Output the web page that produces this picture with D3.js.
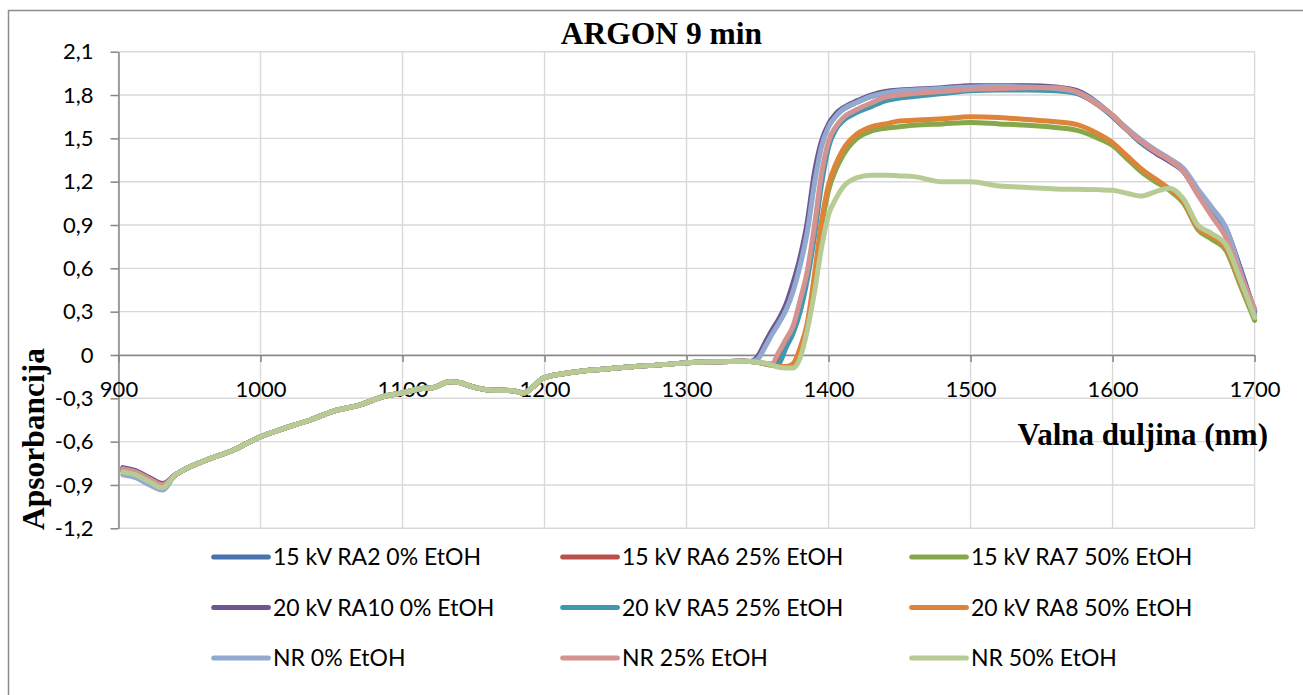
<!DOCTYPE html>
<html>
<head>
<meta charset="utf-8">
<script src="https://cdn.jsdelivr.net/npm/d3@7"></script>
<style>
body { margin: 0; background: #fff; }
</style>
</head>
<body>
<svg id="chart"></svg>
<script>
var width = 1303;
var height = 695;

// series, in legend (and drawing) order
var seriesNames = [
    "15 kV RA2 0% EtOH", "15 kV RA6 25% EtOH", "15 kV RA7 50% EtOH",
    "20 kV RA10 0% EtOH", "20 kV RA5 25% EtOH", "20 kV RA8 50% EtOH",
    "NR 0% EtOH", "NR 25% EtOH", "NR 50% EtOH"
];
var seriesColors = [
    "#4a74ad", "#b9504c", "#87a84a",
    "#6e5790", "#3f98ae", "#dd8439",
    "#92a9d0", "#d49291", "#b7cc95"
];

var xTicks = [900, 1000, 1100, 1200, 1300, 1400, 1500, 1600, 1700];
var yTicks = [-1.2, -0.9, -0.6, -0.3, 0, 0.3, 0.6, 0.9, 1.2, 1.5, 1.8, 2.1];

// start of the spectra (small differences between series)
var headNm = [903, 912, 922, 931];
var ra2Head = [-0.79, -0.81, -0.86, -0.91];
var ra6Head = [-0.80, -0.81, -0.86, -0.90];
var ra7Head = [-0.80, -0.82, -0.87, -0.91];
var ra10Head = [-0.78, -0.80, -0.85, -0.89];
var ra5Head = [-0.80, -0.82, -0.87, -0.91];
var ra8Head = [-0.80, -0.82, -0.86, -0.90];
var nr0Head = [-0.83, -0.85, -0.90, -0.935];
var nr25Head = [-0.79, -0.81, -0.86, -0.90];
var nr50Head = [-0.81, -0.83, -0.88, -0.92];

// middle part, the same for every series
var midNm = [940, 948, 962, 981, 1000, 1016, 1035, 1051, 1070, 1086, 1100, 1112, 1122, 1133,
    1140, 1146, 1161, 1178, 1185, 1192, 1199, 1215, 1239, 1262, 1286, 1300, 1321, 1340];
var midVal = [-0.83, -0.785, -0.727, -0.658, -0.566, -0.51, -0.45, -0.39, -0.346, -0.289,
    -0.262, -0.235, -0.225, -0.186, -0.19, -0.21, -0.242, -0.247, -0.265, -0.22, -0.16,
    -0.127, -0.10, -0.081, -0.065, -0.053, -0.046, -0.044];

// absorption band
var tailNm = [1345, 1350, 1355, 1360, 1365, 1370, 1375, 1380, 1385, 1390, 1395, 1400, 1405,
    1410, 1420, 1430, 1440, 1450, 1460, 1480, 1500, 1520, 1540, 1560, 1575, 1590, 1600, 1610,
    1620, 1630, 1640, 1650, 1660, 1670, 1680, 1690, 1700];
var ra2Tail = [-0.045, -0.02, 0.06, 0.15, 0.23, 0.32, 0.46, 0.64, 0.88, 1.22, 1.46, 1.59, 1.66,
    1.70, 1.75, 1.79, 1.815, 1.83, 1.835, 1.845, 1.86, 1.86, 1.86, 1.85, 1.825, 1.74, 1.655, 1.565,
    1.48, 1.41, 1.35, 1.28, 1.14, 1.01, 0.87, 0.59, 0.30];
var ra6Tail = [-0.045, -0.05, -0.06, -0.065, -0.01, 0.08, 0.18, 0.34, 0.55, 0.86, 1.22, 1.46, 1.57,
    1.63, 1.69, 1.735, 1.775, 1.79, 1.80, 1.82, 1.835, 1.84, 1.845, 1.845, 1.815, 1.73, 1.655, 1.56,
    1.475, 1.41, 1.35, 1.27, 1.115, 0.965, 0.82, 0.565, 0.31];
var ra7Tail = [-0.045, -0.05, -0.06, -0.07, -0.08, -0.085, -0.065, 0.03, 0.20, 0.50, 0.88, 1.14, 1.28,
    1.38, 1.50, 1.55, 1.57, 1.58, 1.59, 1.60, 1.61, 1.60, 1.59, 1.575, 1.555, 1.50, 1.45, 1.36,
    1.27, 1.20, 1.14, 1.05, 0.87, 0.80, 0.72, 0.48, 0.24];
var ra10Tail = [-0.045, -0.01, 0.08, 0.17, 0.25, 0.35, 0.50, 0.68, 0.92, 1.26, 1.48, 1.60, 1.67,
    1.71, 1.76, 1.80, 1.825, 1.835, 1.84, 1.85, 1.865, 1.865, 1.865, 1.855, 1.83, 1.74, 1.65, 1.56,
    1.47, 1.40, 1.34, 1.27, 1.13, 1.01, 0.87, 0.60, 0.30];
var ra5Tail = [-0.045, -0.05, -0.06, -0.07, -0.06, 0.05, 0.15, 0.30, 0.52, 0.82, 1.18, 1.44, 1.56,
    1.62, 1.68, 1.72, 1.76, 1.78, 1.79, 1.81, 1.83, 1.835, 1.835, 1.83, 1.81, 1.73, 1.65, 1.56,
    1.47, 1.41, 1.35, 1.27, 1.12, 0.97, 0.83, 0.57, 0.31];
var ra8Tail = [-0.045, -0.05, -0.06, -0.07, -0.08, -0.08, -0.06, 0.05, 0.22, 0.55, 0.92, 1.18, 1.32,
    1.42, 1.53, 1.58, 1.60, 1.62, 1.625, 1.635, 1.65, 1.645, 1.63, 1.615, 1.595, 1.53, 1.47, 1.38,
    1.29, 1.22, 1.15, 1.06, 0.88, 0.82, 0.74, 0.50, 0.27];
var nr0Tail = [-0.045, -0.03, 0.05, 0.14, 0.22, 0.31, 0.44, 0.62, 0.85, 1.18, 1.44, 1.58, 1.65,
    1.70, 1.75, 1.79, 1.815, 1.83, 1.835, 1.845, 1.855, 1.86, 1.855, 1.845, 1.82, 1.74, 1.66, 1.57,
    1.49, 1.42, 1.36, 1.29, 1.15, 1.02, 0.88, 0.58, 0.28];
var nr25Tail = [-0.045, -0.05, -0.06, -0.06, 0.02, 0.11, 0.20, 0.38, 0.58, 0.89, 1.25, 1.48, 1.58,
    1.64, 1.70, 1.745, 1.785, 1.80, 1.81, 1.825, 1.84, 1.845, 1.85, 1.85, 1.82, 1.73, 1.66, 1.56,
    1.48, 1.41, 1.35, 1.27, 1.11, 0.96, 0.81, 0.56, 0.32];
var nr50Tail = [-0.045, -0.05, -0.055, -0.07, -0.085, -0.09, -0.09, -0.02, 0.17, 0.43, 0.74, 0.97, 1.08,
    1.16, 1.228, 1.245, 1.245, 1.24, 1.235, 1.20, 1.20, 1.17, 1.16, 1.15, 1.147, 1.145, 1.14, 1.12,
    1.10, 1.13, 1.155, 1.08, 0.90, 0.84, 0.76, 0.52, 0.26];

var heads = [ra2Head, ra6Head, ra7Head, ra10Head, ra5Head, ra8Head, nr0Head, nr25Head, nr50Head];
var tails = [ra2Tail, ra6Tail, ra7Tail, ra10Tail, ra5Tail, ra8Tail, nr0Tail, nr25Tail, nr50Tail];

function buildPoints(head, tail) {
    var pts = [];
    for (var i = 0; i < headNm.length; i++) pts.push([headNm[i], head[i]]);
    for (var i = 0; i < midNm.length; i++) pts.push([midNm[i], midVal[i]]);
    for (var i = 0; i < tailNm.length; i++) pts.push([tailNm[i], tail[i]]);
    return pts;
}

var svg = d3.select("#chart")
    .attr("width", width)
    .attr("height", height);

// outer chart border
svg.append("rect")
    .attr("x", 8.5)
    .attr("y", 10.5)
    .attr("width", 1400)
    .attr("height", 800)
    .attr("fill", "#fff")
    .attr("stroke", "#8c8c8c")
    .attr("stroke-width", 1.5);

var x = d3.scaleLinear().domain([900, 1700]).range([118.5, 1254.6]);
var y = d3.scaleLinear().domain([-1.2, 2.1]).range([528.3, 51.7]);

// gridlines
svg.append("g")
    .selectAll("line")
    .data(yTicks)
    .enter()
    .append("line")
    .attr("x1", x(900))
    .attr("x2", x(1700))
    .attr("y1", function (d) { return y(d); })
    .attr("y2", function (d) { return y(d); })
    .attr("stroke", "#d9d9d9")
    .attr("stroke-width", 1.4);

svg.append("g")
    .selectAll("line")
    .data(xTicks)
    .enter()
    .append("line")
    .attr("x1", function (d) { return x(d); })
    .attr("x2", function (d) { return x(d); })
    .attr("y1", y(2.1))
    .attr("y2", y(-1.2))
    .attr("stroke", "#d9d9d9")
    .attr("stroke-width", 1.4);

function fmt(d) {
    if (d === 0) return "0";
    return d.toFixed(1).replace(".", ",");
}

// y axis
var yAxis = svg.append("g")
    .attr("transform", "translate(" + x(900) + ",0)")
    .call(d3.axisLeft(y).tickValues(yTicks).tickSize(8).tickSizeOuter(0).tickPadding(17).tickFormat(fmt));

yAxis.select(".domain").attr("stroke", "#868686").attr("stroke-width", 1.5);
yAxis.selectAll(".tick line").attr("stroke", "#868686").attr("stroke-width", 1.5);
yAxis.selectAll("text")
    .attr("font-family", "Lato")
    .attr("font-size", "22px")
    .attr("fill", "#000");

// x axis, crossing at 0
var xAxis = svg.append("g")
    .attr("transform", "translate(0," + y(0) + ")")
    .call(d3.axisBottom(x).tickValues(xTicks).tickSize(7).tickSizeOuter(0)
        .tickFormat(function (d) { return String(d); }));

xAxis.select(".domain").attr("stroke", "#868686").attr("stroke-width", 1.5);
xAxis.selectAll(".tick line").attr("stroke", "#868686").attr("stroke-width", 1.5);
xAxis.selectAll("text")
    .attr("y", 42)
    .attr("dy", "0")
    .attr("font-family", "Lato")
    .attr("font-size", "22px")
    .attr("fill", "#000");

// series lines
var line = d3.line()
    .x(function (d) { return x(d[0]); })
    .y(function (d) { return y(d[1]); })
    .curve(d3.curveMonotoneX);

for (var s = 0; s < seriesNames.length; s++) {
    svg.append("path")
        .datum(buildPoints(heads[s], tails[s]))
        .attr("d", line)
        .attr("fill", "none")
        .attr("stroke", seriesColors[s])
        .attr("stroke-width", 5)
        .attr("stroke-linejoin", "round")
        .attr("stroke-linecap", "round");
}

// titles
svg.append("text")
    .attr("x", 661.5)
    .attr("y", 44)
    .attr("text-anchor", "middle")
    .attr("font-family", "Liberation Serif")
    .attr("font-weight", "bold")
    .attr("font-size", "31.5px")
    .text("ARGON 9 min");

svg.append("text")
    .attr("x", 1268)
    .attr("y", 445)
    .attr("text-anchor", "end")
    .attr("font-family", "Liberation Serif")
    .attr("font-weight", "bold")
    .attr("font-size", "31px")
    .text("Valna duljina (nm)");

svg.append("text")
    .attr("transform", "translate(44,439) rotate(-90)")
    .attr("text-anchor", "middle")
    .attr("font-family", "Liberation Serif")
    .attr("font-weight", "bold")
    .attr("font-size", "31.5px")
    .text("Apsorbancija");

// legend
var legend = svg.append("g");
for (var i = 0; i < seriesNames.length; i++) {
    var col = i % 3;
    var row = Math.floor(i / 3);
    var lx = 213.7 + col * 349;
    var ly = 557 + row * 50.5;
    legend.append("line")
        .attr("x1", lx)
        .attr("x2", lx + 54.7)
        .attr("y1", ly)
        .attr("y2", ly)
        .attr("stroke", seriesColors[i])
        .attr("stroke-width", 5)
        .attr("stroke-linecap", "round");
    legend.append("text")
        .attr("x", lx + 59.3)
        .attr("y", ly + 8)
        .attr("font-family", "Lato")
        .attr("font-size", "23px")
        .attr("fill", "#000")
        .text(seriesNames[i]);
}
</script>
</body>
</html>
